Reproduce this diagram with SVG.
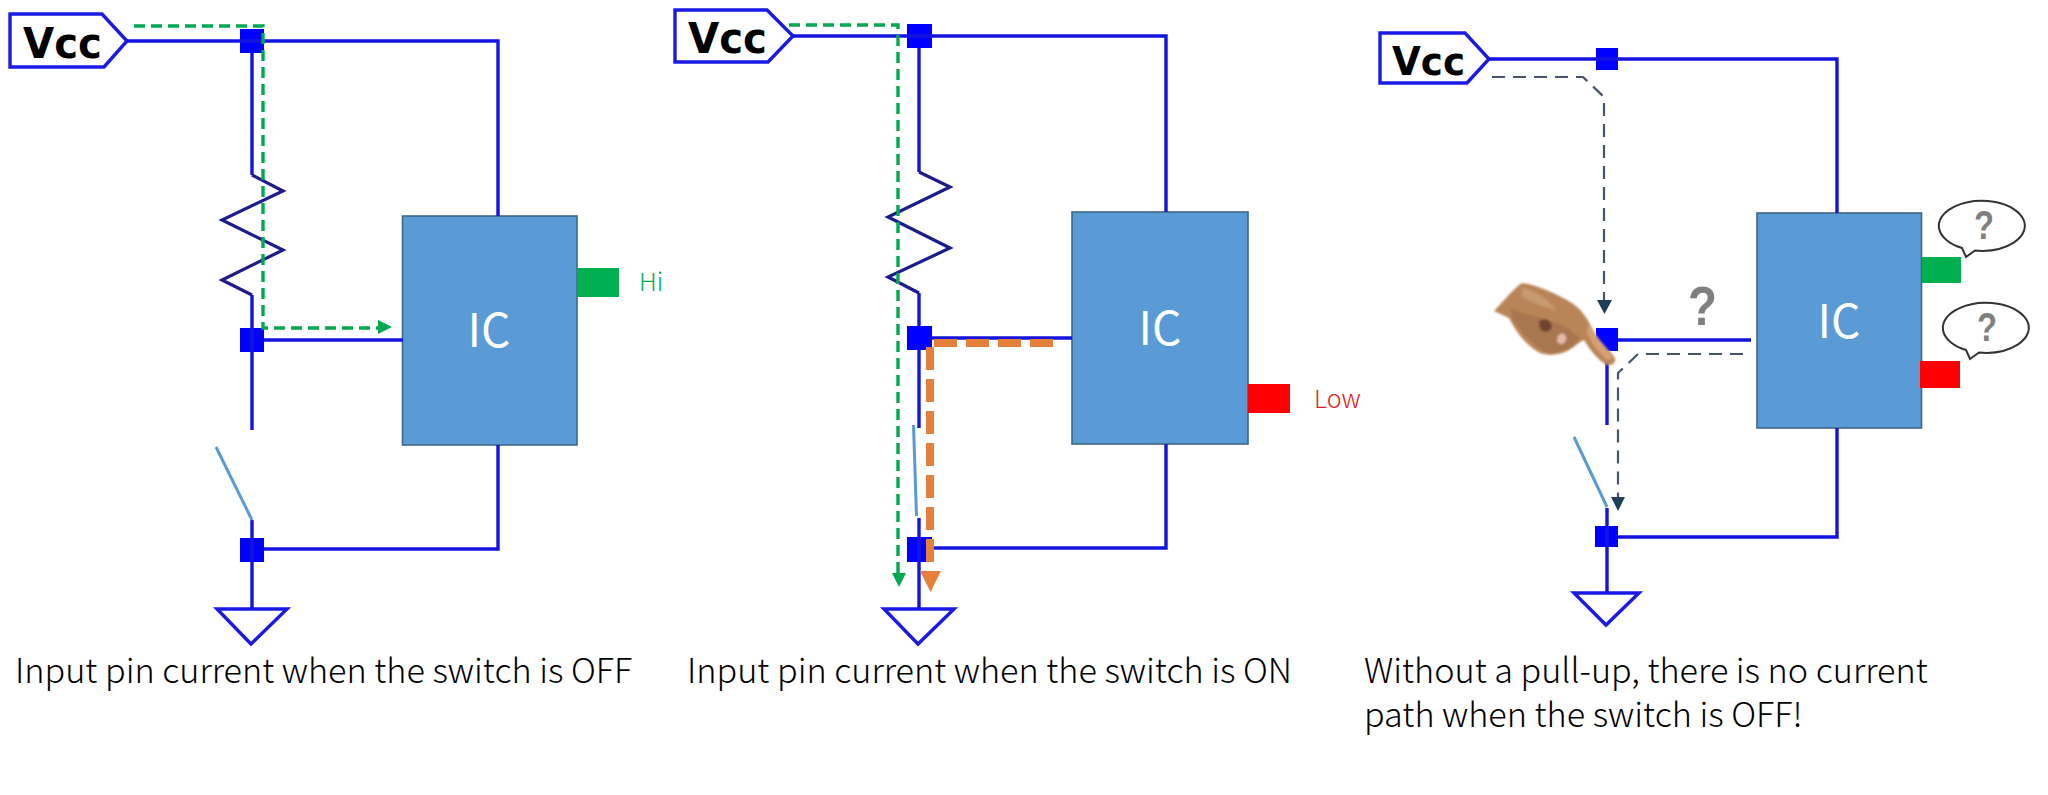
<svg xmlns="http://www.w3.org/2000/svg" width="2048" height="795" viewBox="0 0 2048 795">
<defs><filter id="soft" x="-10%" y="-10%" width="120%" height="120%"><feGaussianBlur stdDeviation="0.9"/></filter></defs>
<style>
.w{fill:none;stroke:#1414e0;stroke-width:3.4}
.r{fill:none;stroke:#1c1c8c;stroke-width:3.2;stroke-linejoin:miter}
.n{fill:#0000ff}
.sym{fill:#fff;stroke:#1a1ae6;stroke-width:3.4}
.ic{fill:#5b9bd5;stroke:#3f6788;stroke-width:1.6}
.sw{fill:none;stroke:#5b9bd5;stroke-width:3}
.g{fill:none;stroke:#00a850;stroke-width:3.4;stroke-dasharray:11 6}
.o{fill:none;stroke:#e5803c;stroke-width:8;stroke-dasharray:23 9}
.d{fill:none;stroke:#44546a;stroke-width:2.2;stroke-dasharray:13 8}
.icT{font:46px "Noto Sans CJK KR","Noto Sans",sans-serif;fill:#fff;text-anchor:middle}
.vcc{font:bold 42px "DejaVu Sans",sans-serif;fill:#000}
.cap{font:300 34.200px "Noto Sans CJK KR","Noto Sans",sans-serif;fill:#000}
.lbl{font:300 25px "Noto Sans CJK KR","Noto Sans",sans-serif}
.q{font-family:"Liberation Sans",sans-serif;font-weight:bold;fill:#7f7f7f}
.bub{fill:#fff;stroke:#333;stroke-width:2}
</style>
<g id="panel-off">
<g id="vcc1"><path class="sym" d="M10 14H102L127 41L104 67H10Z"/><text class="vcc" x="23" y="58" textLength="79" lengthAdjust="spacingAndGlyphs">Vcc</text></g>
<rect id="node1a" class="n" x="240" y="29" width="24" height="24"/>
<rect id="node1b" class="n" x="240" y="328" width="24" height="24"/>
<rect id="node1c" class="n" x="240" y="538" width="24" height="24"/>
<g id="ic1"><rect class="ic" x="402.500" y="216" width="174.500" height="229"/><text class="icT" x="489" y="347">IC</text></g>
<g id="hi"><rect x="577" y="268" width="42" height="29" fill="#00b050"/><text class="lbl" x="639" y="291" fill="#00b050">Hi</text></g>
<path id="gnd1" class="sym" d="M217 609H287L251 644Z"/>
<text class="cap" x="15" y="683">Input pin current when the switch is OFF</text>
</g>
<g id="panel-on">
<g id="vcc2"><path class="sym" d="M675 10H767L793 36L768 62H675Z"/><text class="vcc" x="688" y="53" textLength="79" lengthAdjust="spacingAndGlyphs">Vcc</text></g>
<rect id="node2a" class="n" x="907" y="24" width="25" height="24"/>
<rect id="node2b" class="n" x="907" y="326" width="25" height="24"/>
<rect id="node2c" class="n" x="907" y="537" width="25" height="25"/>
<g id="ic2"><rect class="ic" x="1072" y="212" width="176" height="232"/><text class="icT" x="1160" y="345">IC</text></g>
<g id="low"><rect x="1248" y="384" width="42" height="29" fill="#ff0000"/><text class="lbl" x="1314" y="408" fill="#e02020">Low</text></g>
<path id="gnd2" class="sym" d="M884 609H954L918 644Z"/>
<text class="cap" x="687" y="683">Input pin current when the switch is ON</text>
</g>
<g id="panel-none">
<g id="vcc3"><path class="sym" d="M1380 33H1465L1489 59L1467 83H1380Z"/><text class="vcc" x="1392" y="75" style="font-size:39px" textLength="73" lengthAdjust="spacingAndGlyphs">Vcc</text></g>
<rect id="node3a" class="n" x="1596" y="48" width="22" height="22"/>
<rect id="node3b" class="n" x="1596" y="328" width="22" height="23"/>
<rect id="node3c" class="n" x="1595" y="526" width="23" height="21"/>
<g id="ic3"><rect class="ic" x="1757" y="213" width="164.500" height="215"/><text class="icT" x="1839" y="338">IC</text></g>
<rect id="pad3g" x="1922" y="257" width="39" height="26" fill="#00b050"/>
<rect id="pad3r" x="1920" y="361" width="40" height="27" fill="#ff0000"/>
<text class="q" x="1688" y="325" style="font-size:55px" textLength="29" lengthAdjust="spacingAndGlyphs">?</text>
<g id="bubble1"><path class="bub" d="M1962 248L1966 257L1975 250.500A43 25 0 1 0 1962 248Z"/><text class="q" x="1974" y="239" style="font-size:40px" textLength="20" lengthAdjust="spacingAndGlyphs">?</text></g>
<g id="bubble2"><path class="bub" d="M1966 350L1970 359L1979 352.500A43 25 0 1 0 1966 350Z"/><text class="q" x="1977" y="341" style="font-size:40px" textLength="20" lengthAdjust="spacingAndGlyphs">?</text></g>
<path id="gnd3" class="sym" d="M1574 593H1639L1606 625Z"/>
<text class="cap"><tspan x="1364" y="683">Without a pull-up, there is no current</tspan><tspan x="1364" y="727">path when the switch is OFF!</tspan></text>
</g>
<g id="connectors">
<path class="w" d="M127 41H498V216M252 53V175M252 295V430M252 520V609M264 340H403M264 549H498V445"/>
<path class="w" d="M793 36H1166V212M919 48V172M919 293V326M1072 338H931M919 350V428M919 518V609M931 548H1166V444"/>
<path class="w" d="M1489 59H1837V213M1607 360V425M1607 508V593M1618 340H1751M1618 537H1837V428"/>
<path class="r" d="M252 175L283 191L222 220L283 250L222 280L252 295"/>
<path class="r" d="M919 172L950 187L888 217L950 248L888 277L919 293"/>
<path class="sw" d="M216 447L252 520M913.500 425L916.500 516M1574 437L1607 507"/>
<path class="g" d="M134 26H263V328H380"/>
<path d="M378 320L392 327L378 334Z" fill="#00a850"/>
<path class="g" d="M789 25H898V575"/>
<path d="M892 573H906L899 587Z" fill="#00a850"/>
<path class="o" d="M934 343H1055M930 347V566"/>
<path d="M920 571H941L930.500 592Z" fill="#e5803c"/>
<path class="d" d="M1492 77H1583L1604 97V302"/>
<path d="M1597 300H1612L1604.500 314Z" fill="#1f3f58"/>
<path class="d" d="M1743 354H1638L1618 373V499"/>
<path d="M1611 497H1625L1618 511Z" fill="#1f3f58"/>
</g>
<g id="hand" filter="url(#soft)">
<path fill="#b98558" d="M1494 311C1503 302 1512 290 1522 283C1535 284 1555 293 1572 303C1582 310 1587 318 1592 328C1598 340 1608 348 1615 358C1616 363 1612 366 1607 365C1598 360 1590 350 1584 340C1576 344 1572 350 1562 353C1552 356 1544 355 1538 352C1526 345 1516 332 1509 318Z"/>
<path fill="#a87650" d="M1510 308C1522 314 1536 316 1548 320C1562 324 1572 330 1580 338L1574 345C1568 350 1560 353 1548 354C1535 347 1522 334 1512 318Z"/>
<path fill="#6e4430" d="M1539 321C1545 317 1551 320 1552 327C1549 333 1544 333 1540 329Z"/>
<path fill="#e0bca8" d="M1558 336C1562 331 1567 334 1566 340C1563 346 1559 345 1557 341Z"/>
<path fill="#d6a074" d="M1589 324C1594 334 1605 347 1613 358L1607 360C1598 352 1590 341 1587 332Z"/>
<path fill="#c79a70" d="M1522 288C1534 291 1548 298 1556 310C1546 308 1530 302 1522 296Z"/>
</g>
</svg>
